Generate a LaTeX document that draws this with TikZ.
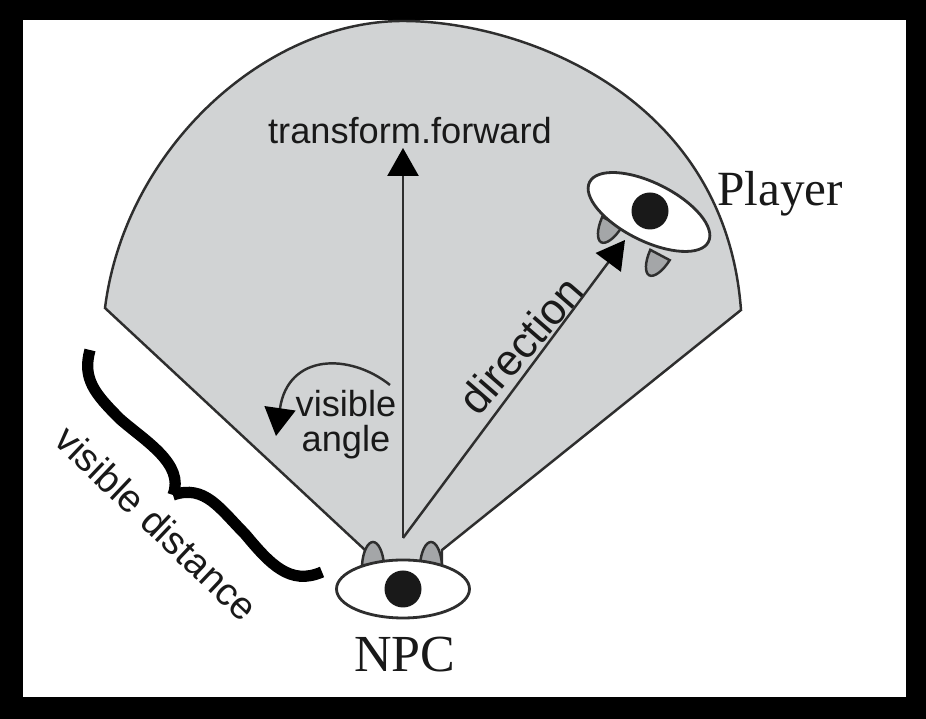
\documentclass[tikz,border=0pt]{standalone}
\usepackage{fontspec}
\setmainfont{Liberation Sans}
\newfontfamily\labelserif{Liberation Serif}
\usetikzlibrary{arrows.meta,shapes.geometric}
\definecolor{conegray}{HTML}{D1D3D4}
\definecolor{eargray}{HTML}{A4A6A8}
\definecolor{inkgray}{HTML}{2E2E2E}
\tikzset{
	eyeshape/.style={ellipse,draw=inkgray,fill=white,line width=0.8pt,inner sep=0pt,minimum width=1.33cm,minimum height=0.58cm},
	pupil/.style={circle,fill=black!90,inner sep=0pt,minimum size=0.37cm},
	earshape/.style={draw=inkgray,fill=eargray,line width=0.7pt},
	pointer/.style={-{Triangle[length=0.28cm,width=0.31cm,fill=black,color=black]},draw=inkgray,line width=0.7pt},
	sanslabel/.style={text=black!90,inner sep=0pt},
	seriflabel/.style={text=black!90,inner sep=0pt}
}

\begin{document}
\begin{tikzpicture}
	%frame
		\fill[black] (0,0) rectangle (9.26,7.19);
		\fill[white] (0.23,0.22) rectangle (9.06,6.99);
	%visible cone
		\draw[fill=conegray,draw=inkgray,line width=0.7pt] (1.05,4.11) .. controls (1.25,5.70) and (2.65,6.98) .. (4.03,6.98)
			.. controls (5.20,6.98) and (7.25,6.25) .. (7.41,4.09) -- (4.42,1.69) -- (4.42,1.55) -- (3.65,1.55) -- (3.65,1.69) -- cycle;
	%ears
		\foreach \earx/\eary/\earang in {3.73/1.54/0,4.31/1.54/0,6.12/4.97/152,6.60/4.64/152}{
			\draw[earshape,shift={(\earx,\eary)},rotate=\earang] (-0.11,0) .. controls (-0.10,0.14) and (-0.05,0.23) .. (0,0.23)
				.. controls (0.05,0.23) and (0.10,0.14) .. (0.11,0) -- cycle;
		}
	%eyes
		\node[eyeshape] (npceye) at (4.03,1.30) {};
		\node[pupil] (npcpupil) at (npceye) {};
		\node[eyeshape,rotate=-26.6] (playereye) at (6.49,5.07) {};
		\node[pupil] (playerpupil) at (6.50,5.08) {};
	%labels
		\node[sanslabel,font=\fontsize{10.3}{12}\selectfont] (forwardlabel) at (4.10,5.88) {transform.forward};
		\node[seriflabel,font=\labelserif\fontsize{14}{16}\selectfont] (playerlabel) at (7.80,5.25) {Player};
		\node[seriflabel,font=\labelserif\fontsize{14.8}{16}\selectfont] (npclabel) at (4.05,0.64) {NPC};
		\node[sanslabel,font=\fontsize{10.3}{12}\selectfont] (visiblelabel) at (3.46,3.15) {visible};
		\node[sanslabel,font=\fontsize{10.3}{12}\selectfont] (anglelabel) at (3.46,2.77) {angle};
		\node[sanslabel,rotate=49,font=\fontsize{12.4}{14}\selectfont] (directionlabel) at (5.21,3.74) {direction};
		\node[sanslabel,rotate=-43.5,font=\fontsize{11}{14}\selectfont] (distancelabel) at (1.57,1.96) {visible distance};
	%arrows
		\coordinate (origin) at (4.03,1.81);
		\coordinate (directiontip) at (6.25,4.79);
		\coordinate (forwardtip) at (4.03,5.71);
		\draw[pointer] (origin) -- (forwardtip);
		\draw[pointer] (origin) -- (directiontip);
	%visible angle arc
		\coordinate (anglestart) at (3.90,3.34);
		\coordinate (angleend) at (2.76,2.83);
		\draw[pointer] (anglestart) .. controls (3.50,3.66) and (2.88,3.66) .. (angleend);
	%brace
		\coordinate (bracestart) at (0.90,3.69);
		\coordinate (bracetip) at (1.73,2.24);
		\coordinate (braceend) at (3.22,1.47);
		\draw[black,line width=3.2pt] (bracestart) .. controls (0.82,3.40) and (0.95,3.25) .. (1.20,3.00)
			.. controls (1.45,2.78) and (1.85,2.55) .. (bracetip);
		\draw[black,line width=3.2pt] (bracetip) .. controls (2.05,2.35) and (2.20,2.10) .. (2.45,1.85)
			.. controls (2.70,1.55) and (2.90,1.33) .. (braceend);
\end{tikzpicture}
\end{document}
